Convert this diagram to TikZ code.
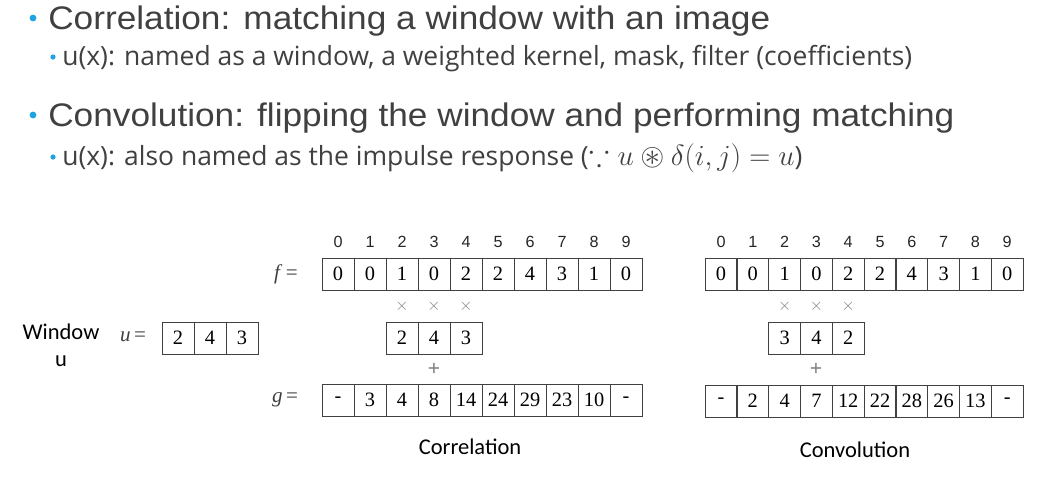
\documentclass[tikz,border=0pt]{standalone}
\usepackage{amssymb}
\usepackage{fontspec}
\setmainfont{Liberation Sans}
\newfontfamily\headfont[FakeStretch=1.08]{Liberation Sans}
\newfontfamily\bodyfont{Open Sans}
\newfontfamily\numfont{Liberation Serif}
\newfontfamily\labelfont{Carlito}
\definecolor{bulletblue}{HTML}{1CA3E0}
\definecolor{ink}{HTML}{404040}

\tikzset{
  heading/.style={anchor=base west, text=ink, inner sep=0pt, font=\headfont\fontsize{23.2}{26}\selectfont},
  subheading/.style={anchor=base west, text=ink, inner sep=0pt, font=\bodyfont\fontsize{18.8}{22}\selectfont},
  bigdot/.style={circle, fill=bulletblue, inner sep=0pt, minimum size=0.17cm},
  smalldot/.style={circle, fill=bulletblue, inner sep=0pt, minimum size=0.13cm},
  cell/.style={draw=ink, line width=0.6pt, minimum width=0.8cm, minimum height=0.8cm, inner sep=0pt, text=black, font=\numfont\fontsize{14.5}{15}\selectfont},
  index/.style={text=black!85, font=\fontsize{11.5}{12}\selectfont},
  op/.style={text=gray, font=\fontsize{12}{12}\selectfont},
  eqlabel/.style={text=ink, font=\numfont\fontsize{15}{16}\selectfont},
  caption/.style={text=black, font=\labelfont\fontsize{16}{19}\selectfont}
}

\begin{document}
\begin{tikzpicture}[x=0.025cm, y=-0.025cm]
\useasboundingbox (0,0) rectangle (1056,488);

% Text
\node[bigdot] (b1) at (33,18) {};
\node[heading] (h1) at (48,29) {Correlation: matching a window with an image};
\node[smalldot] (b2) at (53,57) {};
\node[subheading] (s1) at (62,65) {u(x): named as a window, a weighted kernel, mask, filter (coefficients)};
\node[bigdot] (b3) at (33,115) {};
\node[heading] (h2) at (48,126) {Convolution: flipping the window and performing matching};
\node[smalldot] (b4) at (53,157) {};
\node[subheading] (s2) at (62,165) {u(x): also named as the impulse response ({\fontsize{22}{24}\selectfont$\because u \circledast \delta(i,j) = u$})};

% Window
\node[caption, align=center] (win) at (61,345) {Window\\ u};
\node[eqlabel] (ueq) at (133,337) {\textit{u}\,=};
\foreach \v [count=\i from 0] in {2,4,3}
  \node[cell] (u\i) at (178+32*\i,338) {\v};

% Correlation
\foreach \i in {0,...,9}
  \node[index] (ci\i) at (338+32*\i,242) {\i};
\node[eqlabel] (cfeq) at (286,274) {\textit{f}\,=};
\foreach \v [count=\i from 0] in {0,0,1,0,2,2,4,3,1,0}
  \node[cell] (cf\i) at (338+32*\i,274) {\v};
\foreach \i in {2,3,4}
  \node[op] (cx\i) at (338+32*\i,306) {$\times$};
\foreach \v [count=\i from 2] in {2,4,3}
  \node[cell] (cu\i) at (338+32*\i,338) {\v};
\node[op, font=\fontsize{15}{15}\selectfont] (cplus) at (434,369) {+};
\node[eqlabel] (cgeq) at (285,400) {\textit{g}\,=};
\foreach \v [count=\i from 0] in {-,3,4,8,14,24,29,23,10,-}
  \node[cell] (cg\i) at (338+32*\i,400) {\v};
\node[caption] (corr) at (470,447) {Correlation};

% Convolution
\foreach \i in {0,...,9}
  \node[index] (vi\i) at (721+31.8*\i,242) {\i};
\foreach \v [count=\i from 0] in {0,0,1,0,2,2,4,3,1,0}
  \node[cell] (vf\i) at (721+31.8*\i,274) {\v};
\foreach \i in {2,3,4}
  \node[op] (vx\i) at (721+31.8*\i,306) {$\times$};
\foreach \v [count=\i from 2] in {3,4,2}
  \node[cell] (vu\i) at (721+31.8*\i,338) {\v};
\node[op, font=\fontsize{15}{15}\selectfont] (vplus) at (816,369) {+};
\foreach \v [count=\i from 0] in {-,2,4,7,12,22,28,26,13,-}
  \node[cell] (vg\i) at (721+31.8*\i,401) {\v};
\node[caption] (conv) at (855,450) {Convolution};

\end{tikzpicture}
\end{document}
